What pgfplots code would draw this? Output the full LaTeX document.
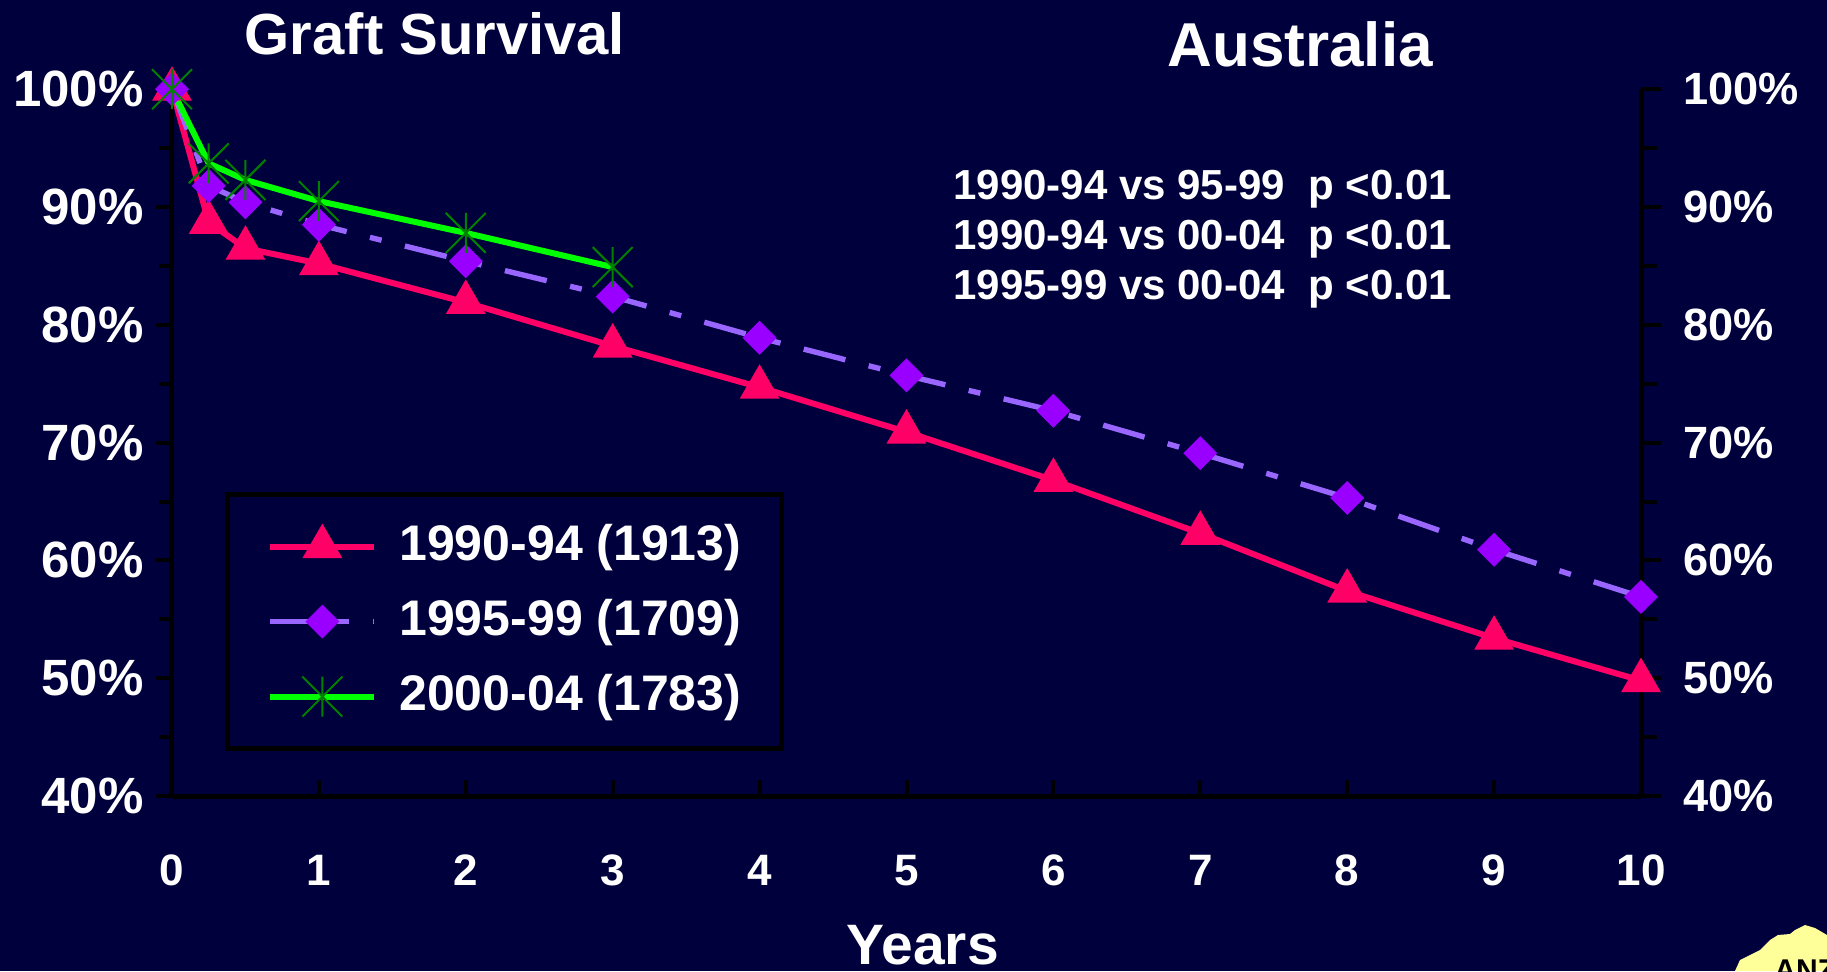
\documentclass[border=0pt]{standalone}
\usepackage{pgfplots}
\pgfplotsset{compat=1.18}
\usepackage{fontspec}
\setmainfont{Liberation Sans}

\definecolor{bgnavy}{RGB}{0,0,60}
\definecolor{c90}{RGB}{255,0,102}
\definecolor{c95line}{RGB}{153,102,255}
\definecolor{c95mark}{RGB}{153,0,255}
\definecolor{c00line}{RGB}{0,255,0}
\definecolor{c00mark}{RGB}{0,128,0}
\definecolor{logoyellow}{RGB}{255,255,153}

% asterisk-like mark: an X with a vertical bar
\pgfdeclareplotmark{xstar}{%
  \pgfpathmoveto{\pgfqpoint{0pt}{\pgfplotmarksize}}%
  \pgfpathlineto{\pgfqpoint{0pt}{-\pgfplotmarksize}}%
  \pgfpathmoveto{\pgfqpoint{-\pgfplotmarksize}{-\pgfplotmarksize}}%
  \pgfpathlineto{\pgfqpoint{\pgfplotmarksize}{\pgfplotmarksize}}%
  \pgfpathmoveto{\pgfqpoint{-\pgfplotmarksize}{\pgfplotmarksize}}%
  \pgfpathlineto{\pgfqpoint{\pgfplotmarksize}{-\pgfplotmarksize}}%
  \pgfusepathqstroke}

\pgfplotstableread{
x     y
0     100
0.25  88.7
0.5   86.5
1     85.2
2     81.9
3     78.2
4     74.7
5     70.9
6     66.8
7     62.3
8     57.4
9     53.4
10    49.8
}\tabA
\pgfplotstableread{
x     y
0     100
0.25  91.8
0.5   90.4
1     88.5
2     85.4
3     82.4
4     78.9
5     75.7
6     72.7
7     69.1
8     65.3
9     60.9
10    56.9
}\tabB
\pgfplotstableread{
x     y
0     100
0.25  93.7
0.5   92.3
1     90.5
2     87.8
3     84.9
}\tabC

\begin{document}
\begin{tikzpicture}
\path[use as bounding box, fill=bgnavy] (-86pt,-87.5pt) rectangle (827.5pt,398pt);

% logo corner
\begin{scope}
\clip (-86pt,-87.5pt) rectangle (827.5pt,398pt);
\fill[logoyellow] (781.5pt,-87.5pt) -- (784pt,-82pt) -- (789pt,-79.5pt) -- (794pt,-77pt)
  -- (796.5pt,-74.5pt) -- (799pt,-72pt) -- (803pt,-69.5pt) -- (809pt,-69pt)
  -- (811.5pt,-67pt) -- (816.5pt,-64.5pt) -- (821.5pt,-66pt) -- (827.5pt,-69.5pt)
  -- (827.5pt,-87.5pt) -- cycle;
\node[anchor=base west, inner sep=0pt, text=black, font=\bfseries\fontsize{15}{16}\selectfont]
  at (801pt,-92pt) {ANZ};
\end{scope}

% right-hand scale
\begin{axis}[
  at={(0,0)}, anchor=south west, scale only axis,
  width=734.5pt, height=353.4pt,
  xmin=0, xmax=10, ymin=40, ymax=100,
  axis x line=none, axis y line*=right,
  axis line style={-, black, line width=2.5pt},
  ytick={40,50,...,100}, minor ytick={45,55,...,95},
  yticklabels={40\%,50\%,60\%,70\%,80\%,90\%,100\%},
  ytick align=outside,
  major tick length=10pt, minor tick length=8pt,
  tick style={black, line width=2pt},
  yticklabel style={anchor=west, inner sep=0pt, xshift=11pt, text=white,
    font=\bfseries\fontsize{22.6}{27}\selectfont},
]
\end{axis}

\begin{axis}[
  at={(0,0)}, anchor=south west, scale only axis,
  width=734.5pt, height=353.4pt,
  xmin=0, xmax=10, ymin=40, ymax=100,
  axis x line*=bottom, axis y line*=left,
  axis line style={-, black, line width=2.5pt},
  clip=false,
  xtick={0,1,2,3,4,5,6,7,8,9,10},
  xticklabels={0,1,2,3,4,5,6,7,8,9,10},
  xtick align=inside,
  ytick={40,50,...,100}, minor ytick={45,55,...,95},
  yticklabels={40\%,50\%,60\%,70\%,80\%,90\%,100\%},
  ytick align=outside,
  major tick length=8pt, minor tick length=6.5pt,
  tick style={black, line width=2pt},
  xticklabel style={anchor=base, yshift=-44.75pt, text=white, font=\bfseries\fontsize{22}{26}\selectfont},
  yticklabel style={anchor=east, inner sep=0pt, xshift=-6pt, text=white,
    font=\bfseries\fontsize{25.5}{30}\selectfont},
  legend image code/.code={\draw[mark repeat=2,mark phase=2,#1] plot coordinates {(0pt,0pt) (26pt,0pt) (52pt,0pt)};},
  legend style={
    at={(axis cs:0.36,65.8)}, anchor=north west,
    draw=black, line width=2.5pt, fill=none,
    inner xsep=20pt, inner ysep=15pt,
    row sep=15.5pt, column sep=11pt,
    font=\bfseries\fontsize{25}{30}\selectfont, text=white,
    nodes={inner sep=0pt, text height=18pt, text depth=4pt},
  },
  legend cell align=left,
]
\addplot[c90, line width=3pt, mark=triangle*, mark size=8.5pt,
  mark options={solid, fill=c90, draw=none}] table[x=x, y=y] {\tabA};
\addlegendentry{1990-94 (1913)}
\addplot[c95line, line width=2.7pt, dash pattern=on 21.5pt off 12pt on 6pt off 12pt,
  mark=square*, mark size=5.8pt,
  mark options={solid, rotate=45, fill=c95mark, draw=c95mark, line width=0.4pt}] table[x=x, y=y] {\tabB};
\addlegendentry{1995-99 (1709)}
\addplot[c00line, line width=3pt, mark=xstar, mark size=10pt,
  mark options={solid, draw=c00mark, line width=1pt}] table[x=x, y=y] {\tabC};
\addlegendentry{2000-04 (1783)}

\node[anchor=base, text=white, font=\bfseries\fontsize{29}{34}\selectfont]
  at (axis cs:1.79,102.92) {Graft Survival};
\node[anchor=base, text=white, font=\bfseries\fontsize{31}{36}\selectfont]
  at (axis cs:7.68,101.94) {Australia};
\node[anchor=base west, inner sep=0pt, text=white, font=\bfseries\fontsize{21}{25}\selectfont]
  at (axis cs:5.317,90.65) {1990-94 vs 95-99\ \ p <0.01};
\node[anchor=base west, inner sep=0pt, text=white, font=\bfseries\fontsize{21}{25}\selectfont]
  at (axis cs:5.317,86.4) {1990-94 vs 00-04\ \ p <0.01};
\node[anchor=base west, inner sep=0pt, text=white, font=\bfseries\fontsize{21}{25}\selectfont]
  at (axis cs:5.317,82.16) {1995-99 vs 00-04\ \ p <0.01};
\node[anchor=base, text=white, font=\bfseries\fontsize{28.5}{34}\selectfont]
  at (axis cs:5.11,25.67) {Years};
\end{axis}
\end{tikzpicture}
\end{document}
